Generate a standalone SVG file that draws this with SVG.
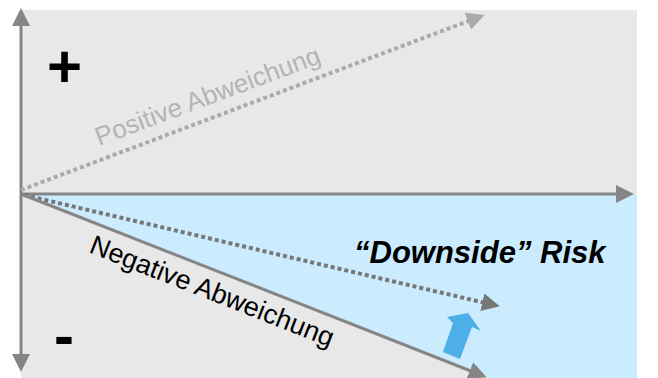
<svg xmlns="http://www.w3.org/2000/svg" width="658" height="378" viewBox="0 0 658 378">
<style>
.ax{stroke:#858585;stroke-width:3;fill:none}
.dot{stroke-width:4;stroke-dasharray:4 3;fill:none}
.t{font-family:"Liberation Sans",Arial,sans-serif}
</style>
<defs>
<marker id="ah" markerWidth="6" markerHeight="6" refX="4" refY="3" orient="auto" markerUnits="strokeWidth"><path d="M0,0 L6,3 L0,6 Z" fill="#858585"/></marker>
<marker id="ahg" markerWidth="4.5" markerHeight="4.5" refX="3" refY="2.25" orient="auto" markerUnits="strokeWidth"><path d="M0,0 L4.5,2.25 L0,4.5 Z" fill="#aaaaaa"/></marker>
<marker id="ahd" markerWidth="4.5" markerHeight="4.5" refX="3" refY="2.25" orient="auto" markerUnits="strokeWidth"><path d="M0,0 L4.5,2.25 L0,4.5 Z" fill="#777777"/></marker>
</defs>
<rect x="21" y="10" width="616" height="368" fill="#e8e8e8"/>
<polygon id="risk-area" points="21,194 637,194 637,378 490,378" fill="#cbecff"/>
<g id="connectors">
<line class="ax" x1="21" y1="194" x2="21" y2="14" marker-end="url(#ah)"/>
<line class="ax" x1="21" y1="194" x2="21" y2="366" marker-end="url(#ah)"/>
<line class="ax" x1="21" y1="194" x2="628" y2="194" marker-end="url(#ah)"/>
<line class="dot" stroke="#aaaaaa" x1="21" y1="190" x2="479" y2="17" marker-end="url(#ahg)"/>
<line class="dot" stroke="#777777" x1="24" y1="195" x2="494" y2="305" marker-end="url(#ahd)"/>
<line class="ax" stroke="#777777" x1="21" y1="194" x2="481" y2="375" marker-end="url(#ah)"/>
</g>
<g id="blue-arrow"><polygon points="443,352 453,323 447,317 468,313 481,331 472,327 460,359" fill="#4eaee8"/></g>
<g id="plus"><text class="t" x="64.5" y="87" font-size="60" font-weight="bold" fill="#000" text-anchor="middle">+</text></g>
<g id="minus"><text class="t" x="64" y="356" font-size="60" font-weight="bold" fill="#000" text-anchor="middle">-</text></g>
<g id="pos-label"><text class="t" x="0" y="0" font-size="26" fill="#b4b4b4" transform="translate(99,146) rotate(-20.5)">Positive Abweichung</text></g>
<g id="neg-label"><text class="t" x="0" y="0" font-size="27" fill="#000" transform="translate(88,252) rotate(21.5)">Negative Abweichung</text></g>
<g id="risk-label"><text class="t" x="354" y="263" font-size="31" font-weight="bold" font-style="italic" fill="#000">“Downside” Risk</text></g>
</svg>
